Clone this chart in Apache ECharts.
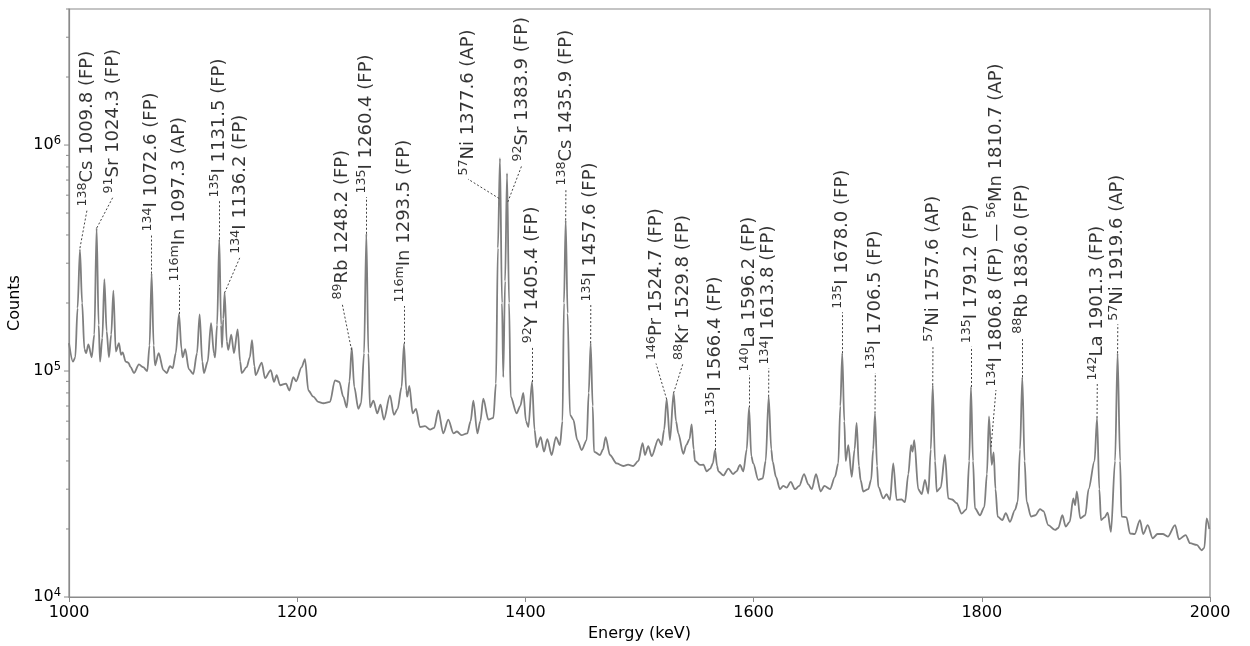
<!DOCTYPE html>
<html><head><meta charset="utf-8">
<script src="https://cdn.jsdelivr.net/npm/echarts@6/dist/echarts.min.js"></script>
<style>html,body{margin:0;padding:0;background:#fff}#c{width:1250px;height:646px}</style>
</head><body><div id="c"></div>
<script>
// Spectrum: energy (keV) and counts
const energyKeV = [
1000.0,1003.5,1005.5,1007.5,1009.6,1011.5,1013.5,1015.0,1017.0,1019.9,1022.2,1024.2,1026.0,1027.2,1029.2,1031.0,1033.0,1035.0,1037.0,1038.9,
1041.0,1043.8,1045.6,1047.0,1049.7,1052.0,1054.0,1057.0,1061.3,1065.0,1068.6,1070.6,1072.4,1074.2,1075.4,1078.6,1082.7,1085.6,1088.5,1090.9,
1093.6,1096.4,1098.6,1099.6,1101.9,1105.0,1108.9,1112.2,1114.5,1116.8,1118.3,1121.5,1124.5,1127.0,1128.0,1129.8,1131.7,1133.3,1134.1,1135.2,
1136.4,1138.3,1139.6,1142.2,1144.6,1147.8,1150.0,1151.4,1155.7,1158.5,1160.4,1162.5,1163.6,1168.9,1171.8,1176.8,1179.7,1182.0,1185.0,1190.2,
1193.1,1196.6,1199.0,1203.9,1206.8,1209.8,1214.1,1218.5,1222.9,1228.7,1233.1,1236.9,1240.4,1243.4,1245.8,1247.8,1250.0,1253.6,1256.0,1258.6,
1260.6,1262.4,1263.8,1266.8,1270.2,1273.0,1276.0,1281.3,1284.8,1288.0,1291.5,1293.6,1295.6,1296.5,1298.3,1301.2,1304.1,1307.6,1312.0,1316.4,
1320.0,1323.7,1328.0,1332.4,1337.0,1340.0,1344.0,1349.0,1352.0,1354.4,1357.9,1360.5,1363.1,1367.5,1371.9,1374.2,1375.9,1377.7,1379.5,1380.6,
1382.2,1383.9,1385.7,1387.1,1392.3,1395.5,1398.2,1400.5,1402.6,1405.8,1408.0,1409.9,1413.4,1416.3,1419.2,1423.0,1426.8,1430.3,1432.5,1433.8,
1435.3,1437.0,1439.1,1442.0,1445.5,1449.3,1453.7,1455.5,1457.2,1459.0,1460.1,1465.4,1468.0,1470.3,1474.1,1480.0,1485.8,1490.0,1494.5,1499.0,
1502.7,1504.8,1507.7,1510.7,1516.5,1519.4,1521.6,1523.8,1526.7,1529.9,1532.0,1534.0,1538.4,1541.0,1543.8,1545.7,1547.5,1548.6,1553.0,1556.0,
1558.9,1562.0,1564.3,1566.2,1568.0,1569.1,1573.5,1577.9,1582.0,1585.0,1588.1,1591.0,1594.0,1596.0,1598.0,1599.7,1604.1,1608.0,1610.6,1613.2,
1615.5,1616.7,1619.6,1623.1,1626.0,1629.0,1632.5,1636.3,1640.0,1644.2,1648.0,1651.0,1654.7,1658.8,1662.0,1667.0,1671.3,1674.2,1676.0,1677.7,
1679.5,1680.7,1683.0,1686.0,1688.5,1690.3,1692.3,1693.8,1696.1,1700.5,1703.0,1704.8,1706.4,1708.2,1709.3,1713.7,1716.5,1719.5,1722.4,1725.4,
1729.7,1732.7,1735.6,1738.0,1739.3,1740.8,1744.3,1747.3,1750.2,1753.1,1755.3,1757.0,1759.0,1760.5,1764.0,1767.7,1770.6,1774.0,1778.0,1782.3,
1786.7,1789.0,1790.5,1792.3,1794.0,1798.4,1802.2,1804.5,1806.3,1808.7,1810.4,1812.0,1813.9,1818.0,1821.0,1824.7,1829.1,1831.5,1833.5,1835.5,
1837.5,1839.3,1843.1,1847.0,1851.0,1854.0,1858.3,1864.2,1867.0,1870.6,1873.5,1877.0,1880.2,1881.8,1883.3,1886.3,1890.7,1893.6,1898.8,1901.0,
1903.0,1904.5,1907.5,1910.3,1913.2,1916.8,1919.0,1921.2,1922.5,1926.8,1929.9,1934.0,1938.6,1941.5,1945.4,1949.8,1954.0,1958.6,1963.0,1969.4,
1972.8,1978.7,1982.5,1988.4,1992.7,1995.0,1997.1,1999.4
];
const counts = [
133000,110000,115000,190000,345000,200000,125000,120000,131000,115000,145000,430000,160000,110000,140000,255000,150000,115000,145000,227000,
122000,133000,118000,121000,110000,109000,104000,98000,107000,104000,100000,130000,270000,130000,106000,120000,101000,98000,105000,103000,
120000,179000,125000,115000,125000,102000,97000,120000,178000,110000,98000,110000,163000,120000,115000,160000,383000,160000,127000,170000,
222000,135000,124000,145000,120000,153000,110000,98000,104000,115000,137000,105000,96000,109000,93000,101000,89500,96000,86500,88000,
82000,94000,90000,104000,113000,82000,77000,73000,72000,73000,91000,89500,77000,69000,90000,127000,85000,68000,72000,120000,
405000,120000,69000,74000,65000,71000,61000,78000,64000,68000,85000,132000,82000,77000,86000,65000,68000,56500,57000,55000,
56000,67000,53000,61000,53000,54000,52000,53000,60000,74000,53000,60000,75500,61000,62000,88000,350000,875000,200000,94000,
250000,750000,200000,77000,65000,70000,80000,60000,56500,89500,55000,46000,51000,44000,50000,42500,51000,47000,60000,200000,
465000,180000,64000,61000,49500,44700,49500,80000,133000,70000,44000,42500,45000,51000,42500,39000,38000,38500,38000,40000,
48000,42500,46500,42000,50000,47000,55000,75000,49500,80000,60000,53000,43000,47000,50000,58000,45000,40000,38400,38500,
36000,37000,39000,44700,38000,36000,34500,37000,35000,36000,38400,36000,45000,69000,42000,39000,33000,33500,40000,77000,
45000,39700,34000,30000,31000,30500,32300,30000,31000,35000,31500,30000,35000,29300,31000,30000,34000,39000,70000,120000,
60000,40000,47000,34000,45000,59000,38000,32900,29300,30000,33000,45000,65000,38000,30700,27300,28500,26900,39000,26900,
27000,26300,35000,47000,44000,49500,30000,28500,33000,28700,45000,86600,40000,29300,30500,42500,27300,27000,26000,23400,
24500,40000,85000,40000,24700,23000,25000,35000,63000,38400,43600,30000,22700,21900,23500,21500,24300,26400,45000,94000,
40000,26400,22700,23000,24500,24000,20800,19800,20200,23000,20500,21500,27300,25500,29300,22300,23000,30000,40000,62000,
30000,21900,22500,23600,19400,40000,120000,40000,22700,22500,19100,19000,21900,19000,20800,18200,19000,19000,18500,20800,
18000,18800,17300,17000,16100,16500,22300,20000
];

// Peak annotations: label text, point on the peak, end of the leader (where the text starts)
const peakLabels = [
'^{138}Cs 1009.8 (FP)','^{91}Sr 1024.3 (FP)','^{134}I 1072.6 (FP)','^{116m}In 1097.3 (AP)','^{135}I 1131.5 (FP)',
'^{134}I 1136.2 (FP)','^{89}Rb 1248.2 (FP)','^{135}I 1260.4 (FP)','^{116m}In 1293.5 (FP)','^{57}Ni 1377.6 (AP)',
'^{92}Sr 1383.9 (FP)','^{92}Y 1405.4 (FP)','^{138}Cs 1435.9 (FP)','^{135}I 1457.6 (FP)','^{146}Pr 1524.7 (FP)',
'^{88}Kr 1529.8 (FP)','^{135}I 1566.4 (FP)','^{140}La 1596.2 (FP)','^{134}I 1613.8 (FP)','^{135}I 1678.0 (FP)',
'^{135}I 1706.5 (FP)','^{57}Ni 1757.6 (AP)','^{135}I 1791.2 (FP)','^{134}I 1806.8 (FP) \u2014 ^{56}Mn 1810.7 (AP)',
'^{88}Rb 1836.0 (FP)','^{142}La 1901.3 (FP)','^{57}Ni 1919.6 (AP)'
];
const peakPoint = [
[1009.6,350000],[1024.4,430000],[1072.5,270000],[1096.6,179000],[1131.6,383000],
[1136.4,222000],[1247.6,124000],[1260.6,405000],[1293.6,132000],[1377.0,580000],
[1384.6,560000],[1405.8,89500],[1435.3,465000],[1457.2,133000],[1523.8,75000],
[1529.9,80000],[1566.2,44700],[1596.0,69000],[1613.2,77000],[1677.7,120000],
[1706.4,65000],[1757.0,86600],[1790.5,85000],[1808.1,46100],
[1835.5,94000],[1901.0,62000],[1919.0,120000]
];
const leaderEnd = [
[1015.8,516000],[1038.6,589000],[1072.5,400000],[1096.6,240000],[1131.6,565000],
[1149.9,319000],[1239.3,200000],[1260.6,589000],[1293.6,194000],[1349.7,707000],
[1397.0,816000],[1405.8,128000],[1435.5,639000],[1457.3,196000],[1514.5,108000],
[1538.1,108000],[1566.2,61300],[1596.0,96000],[1613.3,103000],[1678.0,182000],
[1706.7,98000],[1757.2,130000],[1790.5,128000],[1812.4,82400],
[1835.7,141000],[1901.2,87600],[1919.2,161000]
];

const yMajorTicks = [1e4, 1e5, 1e6];
const yMinorTicks = [2e4,3e4,4e4,5e4,6e4,7e4,8e4,9e4,2e5,3e5,4e5,5e5,6e5,7e5,8e5,9e5,2e6,3e6,4e6];

const FONT = 'DejaVu Sans';
const AXIS_COLOR = '#8a8a8a';
const TEXT_COLOR = '#000';

function toRich(s) {
  return s.replace(/\^\{([^}]*)\}([^\^]*)/g, function (m, sup, rest) {
    return '{s|' + sup + '}{m|' + rest + '}';
  });
}

const spectrum = energyKeV.map(function (e, i) { return [e, counts[i]]; });

function tickSeries(values, len) {
  return {
    type: 'custom', coordinateSystem: 'cartesian2d', clip: false, silent: true, z: 5,
    data: values.map(function (v) { return [1000, v]; }),
    renderItem: function (params, api) {
      const p = api.coord([api.value(0), api.value(1)]);
      return { type: 'line', shape: { x1: p[0] - len, y1: p[1], x2: p[0], y2: p[1] },
               style: { stroke: AXIS_COLOR, lineWidth: 1 } };
    }
  };
}

const chart = echarts.init(document.getElementById('c'), null, { renderer: 'canvas' });
chart.setOption({
  animation: false,
  backgroundColor: '#fff',
  textStyle: { fontFamily: FONT },
  grid: { left: 69, right: 40, top: 9, bottom: 49, show: true, borderColor: AXIS_COLOR, borderWidth: 1.2,
          containLabel: false, outerBoundsMode: 'none' },
  xAxis: {
    type: 'value', min: 1000, max: 2000, interval: 200,
    name: 'Energy (keV)', nameLocation: 'middle', nameGap: 28,
    nameTextStyle: { fontSize: 16, color: TEXT_COLOR, fontFamily: FONT },
    axisLine: { show: true, lineStyle: { color: AXIS_COLOR, width: 1.2 } },
    axisTick: { show: true, length: 5, lineStyle: { color: AXIS_COLOR } },
    axisLabel: { fontSize: 16, color: TEXT_COLOR, margin: 8, fontFamily: FONT,
                 formatter: function (v) { return String(v); } },
    splitLine: { show: false }
  },
  yAxis: {
    type: 'log', logBase: 10, min: 10000, max: 4000000,
    name: 'Counts', nameLocation: 'middle', nameGap: 33,
    nameTextStyle: { fontSize: 16, color: TEXT_COLOR, fontFamily: FONT },
    axisLine: { show: true, lineStyle: { color: AXIS_COLOR, width: 1.2 } },
    axisTick: { show: false },
    axisLabel: {
      margin: 8,
      formatter: function (v) {
        const e = Math.log10(v);
        if (Math.abs(e - Math.round(e)) > 1e-6) return '';
        return '{b|10}{e|' + Math.round(e) + '}';
      },
      rich: {
        b: { fontSize: 16, color: TEXT_COLOR, fontFamily: FONT, lineHeight: 20 },
        e: { fontSize: 11.5, color: TEXT_COLOR, fontFamily: FONT, verticalAlign: 'top', lineHeight: 20 }
      }
    },
    splitLine: { show: false }
  },
  series: [
    {
      type: 'line', data: spectrum, showSymbol: false, symbol: 'none', silent: true, z: 3,
      smooth: 0.3, smoothMonotone: 'x',
      lineStyle: { color: '#7f7f7f', width: 1.8 }
    },
    {
      type: 'lines', coordinateSystem: 'cartesian2d', silent: true, z: 4,
      data: peakPoint.map(function (p, i) { return { coords: [p, leaderEnd[i]] }; }),
      lineStyle: { color: '#444', width: 1, type: [2, 2], opacity: 1, curveness: 0 }
    },
    {
      type: 'scatter', silent: true, z: 6, symbolSize: 1,
      itemStyle: { color: 'rgba(0,0,0,0)' },
      data: leaderEnd.map(function (p) { return p.slice(); }),
      label: {
        show: true, position: 'top', distance: 3, rotate: 90, align: 'left', verticalAlign: 'middle',
        formatter: function (params) { return toRich(peakLabels[params.dataIndex]); },
        rich: {
          m: { fontSize: 18, color: TEXT_COLOR, fontFamily: FONT, lineHeight: 22 },
          s: { fontSize: 12.6, color: TEXT_COLOR, fontFamily: FONT, lineHeight: 22, verticalAlign: 'top' }
        }
      }
    },
    tickSeries(yMajorTicks, 5),
    tickSeries(yMinorTicks, 3)
  ]
});
</script>
</body></html>
